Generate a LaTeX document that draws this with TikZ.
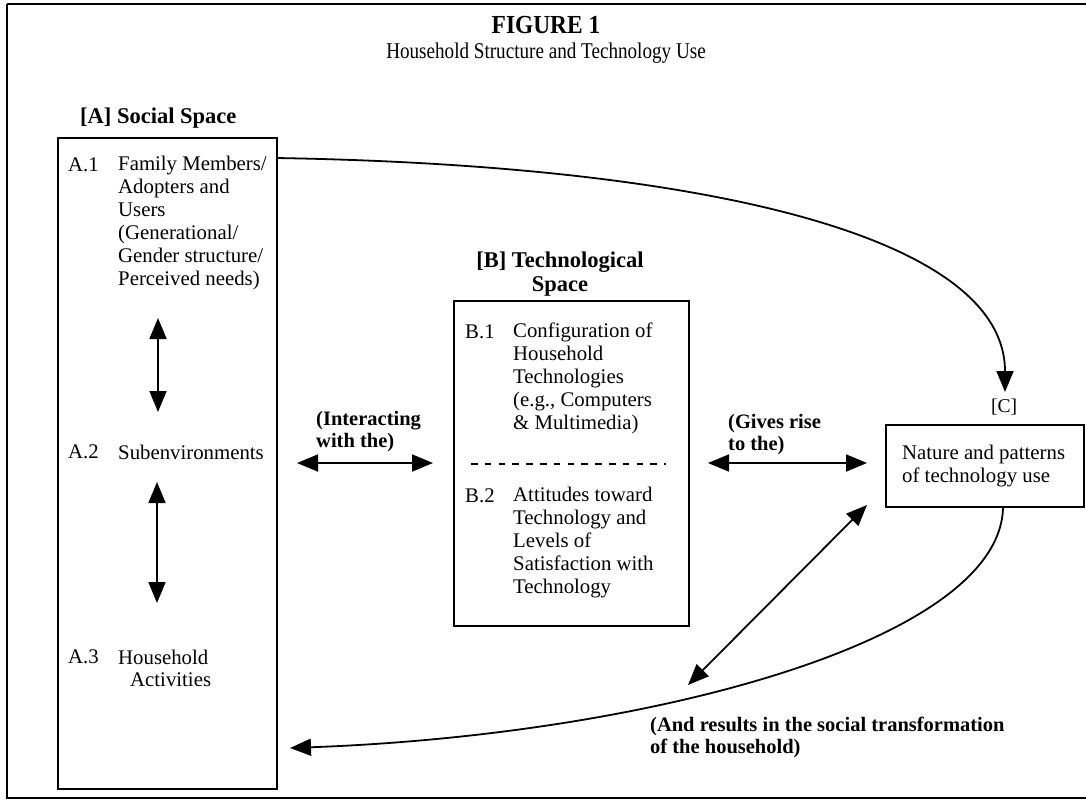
\documentclass[tikz,border=0pt]{standalone}
\usepackage{fontspec}
\setmainfont{Liberation Serif}
\usepackage{graphicx}
\usetikzlibrary{arrows.meta}
\tikzset{
  box/.style={draw, line width=1.8pt, inner sep=0pt, anchor=north west},
  body/.style={font=\fontsize{20.8}{23}\selectfont, align=left, inner sep=0pt},
  lbl/.style={font=\bfseries\fontsize{20.5}{22}\selectfont, align=left, inner sep=0pt},
  head/.style={font=\bfseries\fontsize{22.5}{24}\selectfont, align=center, inner sep=0pt},
  conn/.style={line width=1.8pt},
  tip/.tip={Triangle[length=21pt,width=17pt]},
  dbl/.style={conn, tip-tip},
  one/.style={conn, -tip},
}
\begin{document}
\begin{tikzpicture}[x=1pt,y=-1pt]
\useasboundingbox (0,0) rectangle (1086,801);
\begin{scope}
\clip (0,0) rectangle (1086,801);
\draw[line width=2.2pt] (7,4) -- (1130,4);
\draw[line width=2.2pt] (7,4) -- (7,798) -- (1130,798);
\end{scope}

% titles
\node[inner sep=0pt, font=\bfseries\fontsize{26}{28}\selectfont] (title) at (546,25) {\scalebox{0.9}[1]{FIGURE 1}};
\node[inner sep=0pt, font=\fontsize{22.5}{24}\selectfont] (subtitle) at (546,53) {\scalebox{0.85}[1]{Household Structure and Technology Use}};

% box A
\node[head, anchor=west] (Ahead) at (80,118) {[A] Social Space};
\node[box, minimum width=219pt, minimum height=651pt] (A) at (57,137) {};
\node[body, anchor=west] (A1l) at (68,165) {A.1};
\node[body, anchor=north west] (A1t) at (118,156) {Family Members/\\Adopters and\\Users\\(Generational/\\Gender structure/\\Perceived needs)};
\node[body, anchor=west] (A2l) at (68,452) {A.2};
\node[body, anchor=west] (A2t) at (118,452) {Subenvironments};
\node[body, anchor=west] (A3l) at (68,657) {A.3};
\node[body, anchor=west] (A3t) at (118,657) {Household};
\node[body, anchor=west] (A3u) at (130,680) {Activities};
\coordinate (a1s) at (158,318);
\coordinate (a1e) at (158,412);
\coordinate (a2s) at (157,482);
\coordinate (a2e) at (157,603);
\draw[dbl] (a1s) -- (a1e);
\draw[dbl] (a2s) -- (a2e);

% box B
\node[head] (Bhead) at (560,274) {[B] Technological\\Space};
\node[box, minimum width=235pt, minimum height=325pt] (B) at (453,300) {};
\node[body, anchor=west] (B1l) at (465,332) {B.1};
\node[body, anchor=north west] (B1t) at (513,323) {Configuration of\\Household\\Technologies\\(e.g., Computers\\\&\ Multimedia)};
\coordinate (dl) at (471,464);
\coordinate (dr) at (666,464);
\draw[line width=2.2pt, dash pattern=on 6.5pt off 7.3pt] (dl) -- (dr);
\node[body, anchor=west] (B2l) at (465,496) {B.2};
\node[body, anchor=north west] (B2t) at (513,487) {Attitudes toward\\Technology and\\Levels of\\Satisfaction with\\Technology};

% box C
\node[inner sep=0pt, font=\fontsize{19.5}{21}\selectfont] (Chead) at (1004,407) {[C]};
\node[box, minimum width=198pt, minimum height=82pt] (C) at (885,424) {};
\node[body, anchor=north west] (Ct) at (902,445) {Nature and patterns\\of technology use};

% interacting arrow
\coordinate (ia) at (297,463);
\coordinate (ib) at (433,463);
\draw[dbl] (ia) -- (ib);
\node[lbl, anchor=north west] (il) at (316,411) {(Interacting\\with the)};

% gives rise arrow
\coordinate (ga) at (708,463);
\coordinate (gb) at (867,463);
\draw[dbl] (ga) -- (gb);
\node[lbl, anchor=north west] (gl) at (728,414) {(Gives rise\\to the)};

% top curve A -> C
\coordinate (ts) at (276,158);
\coordinate (te) at (1005,392);
\draw[one] (ts) .. controls (700,165) and (1005,235) .. (te);

% diagonal double arrow
\coordinate (da) at (867,505);
\coordinate (db) at (688,685);
\draw[dbl] (da) -- (db);

% bottom curve C -> A
\coordinate (bs) at (1003,506);
\coordinate (be) at (290,748);
\draw[one] (bs) .. controls (1003,640) and (650,735) .. (be);
\node[lbl, anchor=north west] (bl) at (650,717) {(And results in the social transformation\\of the household)};
\end{tikzpicture}
\end{document}
